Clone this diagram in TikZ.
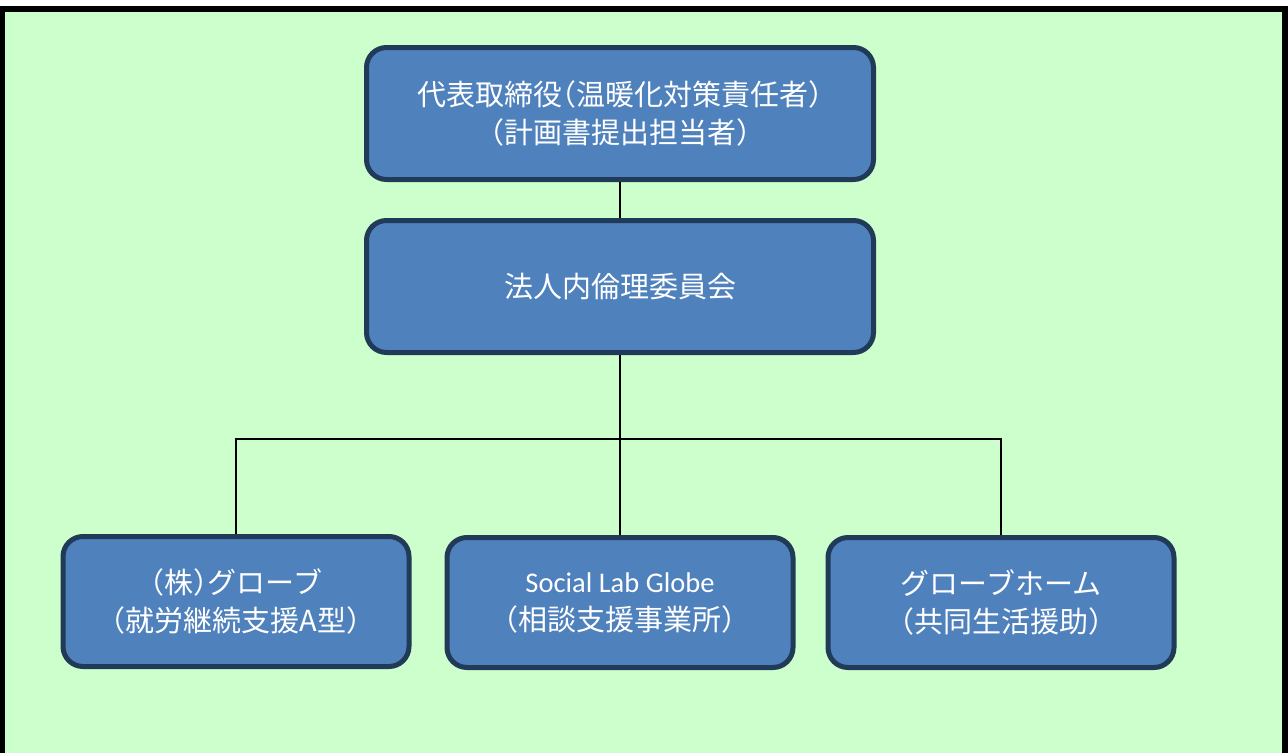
\documentclass[tikz,border=0pt]{standalone}
\usepackage{fontspec}
\setmainfont{Noto Sans CJK JP}
\newfontfamily\jpfont[RawFeature={+halt}]{Noto Sans CJK JP}
\newfontfamily\latfont{Carlito}
\definecolor{bggreen}{HTML}{CCFFCC}
\definecolor{boxfill}{HTML}{4F81BD}
\definecolor{boxline}{HTML}{203A58}
\tikzset{
  orgbox/.style={draw=boxline, line width=5pt, fill=boxfill, rounded corners=20pt,
    text=white, align=center, inner sep=0pt,
    font=\jpfont\fontsize{29}{38}\selectfont},
  topbox/.style={orgbox, minimum width=507pt, minimum height=132pt},
  lowbox/.style={orgbox, minimum width=346pt, minimum height=130pt},
  link/.style={draw=black, line width=2pt}
}
\begin{document}
\begin{tikzpicture}[x=1pt,y=-1pt]
\useasboundingbox (0,0) rectangle (1288,753);
\fill[white] (0,0) rectangle (1288,753);
\fill[black] (0,6) rectangle (1288,753);
\fill[bggreen] (5,12) rectangle (1282,753);
\node[topbox] (ceo) at (620,113.5) {代表取締役（温暖化対策責任者）\\（計画書提出担当者）};
\node[topbox] (eth) at (620,286.5) {法人内倫理委員会};
\node[lowbox] (b1) at (236,601.5) {（株）グローブ\\（就労継続支援A型）};
\node[lowbox] (b2) at (620,602.5) {{\latfont\fontsize{28.5}{38}\selectfont Social Lab Globe}\\（相談支援事業所）};
\node[lowbox] (b3) at (1001,602.5) {グローブホーム\\（共同生活援助）};
\coordinate (bus) at (620,439);
\draw[link] (ceo.south) -- (eth.north);
\draw[link] (eth.south) -- (bus);
\draw[link] (b1.north) |- (bus) -| (b3.north);
\draw[link] (bus) -- (b2.north);
\end{tikzpicture}
\end{document}
